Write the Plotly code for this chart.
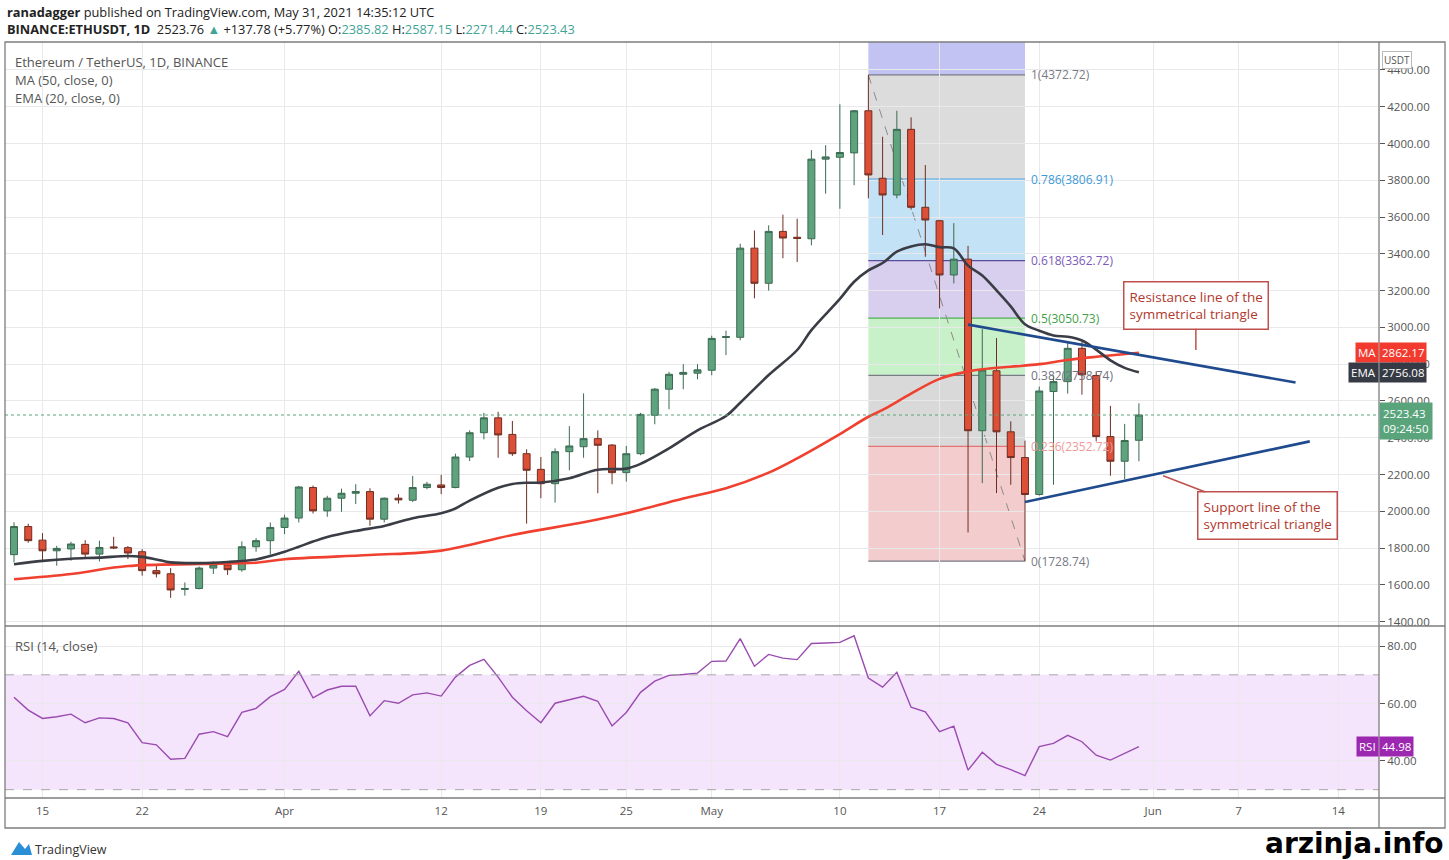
import pandas as pd
import plotly.graph_objects as go
from plotly.subplots import make_subplots

# ETHUSDT daily candles, 13 Mar - 31 May 2021
start_day = "2021-03-13"
opens = [1764, 1917, 1843, 1785, 1795, 1820, 1767, 1806, 1802, 1780,
         1677, 1660, 1575, 1580, 1691, 1708, 1682, 1807, 1840, 1912,
         1963, 2129, 2002, 2071, 2098, 2107, 1957, 2071, 2060, 2129,
         2143, 2129, 2295, 2427, 2508, 2418, 2313, 2228, 2150, 2324,
         2351, 2395, 2360, 2210, 2313, 2522, 2664, 2745, 2751, 2767,
         2945, 2946, 3431, 3240, 3522, 3490, 3482, 3915, 3925, 3949,
         4178, 3811, 3720, 4077, 3653, 3580, 3285, 3371, 2438, 2764,
         2432, 2292, 2091, 2651, 2705, 2886, 2738, 2406, 2272, 2385.82]
highs = [1940, 1932, 1881, 1812, 1834, 1843, 1840, 1861, 1811, 1794,
         1713, 1691, 1613, 1700, 1727, 1716, 1836, 1854, 1939, 1981,
         2138, 2140, 2084, 2123, 2147, 2125, 2075, 2093, 2192, 2160,
         2198, 2313, 2440, 2535, 2541, 2491, 2337, 2295, 2342, 2463,
         2641, 2440, 2365, 2355, 2535, 2670, 2758, 2800, 2800, 2955,
         2982, 3455, 3527, 3555, 3613, 3591, 3964, 3991, 4213, 4182,
         4372.72, 4037, 4178, 4142, 3883, 3585, 3567, 3443, 2991, 2942,
         2489, 2384, 2678, 2739, 2922, 2922, 2760, 2573, 2475, 2587.15]
lows = [1722, 1829, 1731, 1704, 1731, 1749, 1727, 1794, 1740, 1650,
        1640, 1529, 1541, 1575, 1659, 1653, 1671, 1780, 1764, 1876,
        1939, 1988, 1970, 1997, 2039, 1921, 1939, 2042, 2051, 2120,
        2093, 2125, 2273, 2391, 2291, 2301, 1933, 2071, 2047, 2223,
        2291, 2098, 2147, 2161, 2305, 2473, 2555, 2664, 2718, 2740,
        2849, 2930, 3158, 3200, 3376, 3355, 3446, 3727, 3645, 3773,
        3702, 3502, 3702, 3640, 3384, 3103, 3239, 1885, 2153, 2099,
        2144, 1728.74, 2085, 2144, 2640, 2634, 2380, 2193, 2175, 2271.44]
closes = [1917, 1840, 1785, 1798, 1822, 1767, 1803, 1801, 1773, 1677,
          1660, 1572, 1580, 1691, 1708, 1682, 1807, 1840, 1912, 1963,
          2132, 2002, 2071, 2098, 2107, 1957, 2071, 2062, 2129, 2147,
          2129, 2295, 2427, 2508, 2415, 2313, 2223, 2150, 2324, 2355,
          2395, 2359, 2210, 2313, 2527, 2664, 2745, 2755, 2769, 2940,
          2950, 3431, 3240, 3522, 3486, 3484, 3915, 3927, 3951, 4178,
          3829, 3720, 4077, 3653, 3584, 3285, 3371, 2438, 2768, 2432,
          2292, 2091, 2654, 2705, 2886, 2742, 2406, 2272, 2385, 2523.43]

# EMA(20) and MA(50) read at sampled days (day number from 13 Mar)
ema_days = [0, 2, 4, 6, 8, 9, 10, 11, 13, 15, 17, 18, 19, 20, 21, 22, 24, 26,
            28, 30, 31, 32, 34, 35, 36, 37, 39, 41, 43, 44, 46, 48, 50, 51, 53,
            55, 56, 58, 59, 60, 61, 62, 63, 64, 65, 66, 67, 68, 69, 70, 71, 72,
            73, 74, 75, 76, 77, 78, 79]
ema_vals = [1712, 1730, 1742, 1748, 1757, 1752, 1738, 1722, 1718, 1724, 1738,
            1757, 1780, 1807, 1835, 1860, 1893, 1920, 1962, 1989, 2015, 2058,
            2128, 2148, 2155, 2156, 2180, 2226, 2232, 2258, 2342, 2440, 2518,
            2590, 2741, 2877, 2985, 3155, 3248, 3310, 3350, 3412, 3440, 3452,
            3436, 3430, 3336, 3282, 3201, 3114, 3017, 2982, 2956, 2949, 2929,
            2879, 2821, 2780, 2756.08]
ma_days = [0, 4, 8, 13, 17, 19, 25, 30, 35, 40, 43, 47, 50, 53, 55, 58, 60, 61,
           63, 65, 67, 68, 70, 72, 74, 76, 79]
ma_vals = [1630, 1659, 1702, 1713, 1720, 1739, 1762, 1786, 1871, 1940, 1989,
           2070, 2125, 2210, 2288, 2420, 2514, 2551, 2640, 2720, 2760, 2772,
           2786, 2800, 2823, 2840, 2862.17]

rsi_vals = [62.2, 57.7, 54.8, 55.4, 56.3, 53.3, 55.0, 54.8, 53.3, 46.4,
            45.6, 40.6, 40.9, 49.3, 50.2, 48.5, 56.9, 58.3, 62.4, 64.9,
            71.2, 62.0, 64.7, 66.0, 66.0, 55.7, 61.0, 60.1, 63.0, 63.7,
            62.6, 69.2, 73.3, 75.4, 69.2, 62.2, 57.5, 53.3, 60.1, 61.2,
            62.5, 60.8, 52.2, 56.9, 63.9, 67.8, 69.8, 70.1, 70.6, 74.7,
            74.8, 82.6, 73.0, 77.1, 75.8, 75.3, 80.9, 81.1, 81.3, 83.6,
            68.9, 65.7, 70.9, 58.7, 57.1, 50.2, 52.1, 36.8, 43.0, 38.8,
            37.0, 34.9, 45.0, 46.1, 48.9, 46.7, 42.0, 40.3, 42.5, 44.98]

fib_ratios = ["1", "0.786", "0.618", "0.5", "0.382", "0.236", "0"]
fib_prices = [4372.72, 3806.91, 3362.72, 3050.73, 2738.74, 2352.72, 1728.74]
fib_start, fib_end = "2021-05-12", "2021-05-23"

resist_dates = ["2021-05-19", "2021-06-11"]
resist_prices = [3015, 2700]
support_dates = ["2021-05-23", "2021-06-12"]
support_prices = [2050, 2380]

tick_dates = ["2021-03-15", "2021-03-22", "2021-04-01", "2021-04-12", "2021-04-19",
              "2021-04-25", "2021-05-01", "2021-05-10", "2021-05-17", "2021-05-24",
              "2021-06-01", "2021-06-07", "2021-06-14"]
tick_text = ["15", "22", "Apr", "12", "19", "25", "May", "10", "17", "24", "Jun", "7", "14"]

last_price = 2523.43

dates = pd.date_range(start_day, periods=len(closes), freq="D")
day0 = pd.Timestamp(start_day)
ema_x = [day0 + pd.Timedelta(days=d) for d in ema_days]
ma_x = [day0 + pd.Timedelta(days=d) for d in ma_days]

W, H = 1449, 860
ML, MR, MT, MB = 5, 70, 42, 62
PW, PH = W - ML - MR, H - MT - MB
split = 172 / PH


def px(x):
    return (x - ML) / PW


def py(y):
    return (H - MB - y) / PH


FONT = "Open Sans"
GREY = "#555555"
UP, DOWN = "#5fa27e", "#dd4f37"

fig = make_subplots(rows=2, cols=1, shared_xaxes=True, vertical_spacing=0,
                    row_heights=[0.77, 0.23])

# fibonacci zones
fib_fills = ["#dcdcdc", "#c4e2f6", "#d8cfee", "#c9f1c9", "#d9d9d9", "#f3cdcd"]
fig.add_shape(type="rect", xref="x", yref="y", x0=fib_start, x1=fib_end,
              y0=fib_prices[0], y1=4700, fillcolor="#c3c3f3", line_width=0, layer="below")
for i in range(len(fib_fills)):
    fig.add_shape(type="rect", xref="x", yref="y", x0=fib_start, x1=fib_end,
                  y0=fib_prices[i + 1], y1=fib_prices[i], fillcolor=fib_fills[i],
                  line_width=0, layer="below")
fib_lines = ["#787b86", "#4aa3df", "#5b4a9a", "#4caf50", "#787b86", "#e57373", "#787b86"]
fib_text = ["#787b86", "#3d9ad6", "#7a5ab8", "#3f9f48", "#6f7280", "#ef9a9a", "#787b86"]
for r, p, lc, tc in zip(fib_ratios, fib_prices, fib_lines, fib_text):
    fig.add_shape(type="line", xref="x", yref="y", x0=fib_start, x1=fib_end,
                  y0=p, y1=p, line=dict(color=lc, width=1.2), layer="below")
    fig.add_annotation(x=fib_end, y=p, xref="x", yref="y", text=f"{r}({p:.2f})",
                       showarrow=False, xanchor="left", xshift=4,
                       font=dict(family=FONT, size=12, color=tc))
fig.add_shape(type="line", xref="x", yref="y", x0=fib_start, x1=fib_end,
              y0=fib_prices[0], y1=fib_prices[-1],
              line=dict(color="#8a8a8a", width=1, dash="dash"), layer="below")

# last price dotted line
fig.add_shape(type="line", xref="paper", yref="y", x0=0, x1=1, y0=last_price,
              y1=last_price, line=dict(color="#5aa47c", width=1, dash="dot"))

fig.add_trace(go.Candlestick(
    x=dates, open=opens, high=highs, low=lows, close=closes,
    increasing=dict(line=dict(color="#3b6a52", width=1), fillcolor=UP),
    decreasing=dict(line=dict(color="#6e2e22", width=1), fillcolor=DOWN),
    whiskerwidth=0, showlegend=False, hoverinfo="skip"), row=1, col=1)

fig.add_trace(go.Scatter(x=ma_x, y=ma_vals, mode="lines", line_shape="spline",
                         line=dict(color="#f0402f", width=2.6), showlegend=False),
              row=1, col=1)
fig.add_trace(go.Scatter(x=ema_x, y=ema_vals, mode="lines", line_shape="spline",
                         line=dict(color="#3a3d45", width=2.6), showlegend=False),
              row=1, col=1)

fig.add_trace(go.Scatter(x=resist_dates, y=resist_prices, mode="lines",
                         line=dict(color="#1f4b8e", width=2.6), showlegend=False),
              row=1, col=1)
fig.add_trace(go.Scatter(x=support_dates, y=support_prices, mode="lines",
                         line=dict(color="#1f4b8e", width=2.6), showlegend=False),
              row=1, col=1)

# RSI pane
fig.add_shape(type="rect", xref="x2 domain", yref="y2", x0=0, x1=1, y0=30, y1=70,
              fillcolor="#f4e4fc", line_width=0, layer="below")
for lvl in [70, 30]:
    fig.add_shape(type="line", xref="x2 domain", yref="y2", x0=0, x1=1, y0=lvl, y1=lvl,
                  line=dict(color="#a8a8a8", width=1, dash="dash"))
fig.add_trace(go.Scatter(x=dates, y=rsi_vals, mode="lines",
                         line=dict(color="#9a4bb0", width=1.4), showlegend=False),
              row=2, col=1)

x_range = ["2021-03-12 08:50", "2021-06-16 20:40"]
fig.update_xaxes(range=x_range, tickvals=tick_dates, ticktext=tick_text,
                 showgrid=True, gridcolor="#e9e9ec", zeroline=False,
                 rangeslider_visible=False, ticklabelstandoff=4,
                 tickfont=dict(family=FONT, size=11.5, color=GREY))
fig.update_xaxes(showticklabels=False, row=1, col=1)

price_ticks = list(range(1400, 4401, 200))
fig.update_yaxes(row=1, col=1, side="right", range=[1376, 4552], tickvals=price_ticks,
                 ticktext=[f"{v:.2f}" for v in price_ticks], domain=[split, 1],
                 showgrid=True, gridcolor="#e9e9ec", zeroline=False,
                 ticks="outside", ticklen=5, tickcolor=GREY,
                 tickfont=dict(family=FONT, size=11.5, color=GREY))
fig.update_yaxes(row=2, col=1, side="right", range=[27.1, 87], tickvals=[40, 60, 80],
                 ticktext=["40.00", "60.00", "80.00"], domain=[0, split],
                 showgrid=True, gridcolor="#e9e9ec", zeroline=False,
                 ticks="outside", ticklen=5, tickcolor=GREY,
                 tickfont=dict(family=FONT, size=11.5, color=GREY))

# frame and separators
frame = dict(color="#7d7d7d", width=1.3)
fig.add_shape(type="rect", xref="paper", yref="paper", x0=0, x1=px(1445),
              y0=py(828), y1=1, line=frame)
fig.add_shape(type="line", xref="paper", yref="paper", x0=1, x1=1, y0=py(828), y1=1, line=frame)
fig.add_shape(type="line", xref="paper", yref="paper", x0=0, x1=px(1445), y0=split, y1=split, line=frame)
fig.add_shape(type="line", xref="paper", yref="paper", x0=0, x1=px(1445), y0=0, y1=0, line=frame)

# header and legend texts
fig.add_annotation(xref="paper", yref="paper", x=0, y=py(12), xanchor="left", yanchor="middle",
                   text="<b>ranadagger</b> published on TradingView.com, May 31, 2021 14:35:12 UTC",
                   showarrow=False, font=dict(family=FONT, size=12.8, color="#222"))
teal = "#3fa597"
hdr = (f"<b>BINANCE:ETHUSDT, 1D</b>  2523.76 <span style='color:{teal}'>▲</span> +137.78 (+5.77%) "
       f"O:<span style='color:{teal}'>2385.82</span> H:<span style='color:{teal}'>2587.15</span> "
       f"L:<span style='color:{teal}'>2271.44</span> C:<span style='color:{teal}'>2523.43</span>")
fig.add_annotation(xref="paper", yref="paper", x=0, y=py(29), xanchor="left", yanchor="middle",
                   text=hdr, showarrow=False, font=dict(family=FONT, size=12.8, color="#222"))
for txt, yy in [("Ethereum / TetherUS, 1D, BINANCE", 62), ("MA (50, close, 0)", 80),
                ("EMA (20, close, 0)", 98), ("RSI (14, close)", 646)]:
    fig.add_annotation(xref="paper", yref="paper", x=px(13), y=py(yy), xanchor="left",
                       yanchor="middle", text=txt, showarrow=False,
                       font=dict(family=FONT, size=13, color=GREY))

# callouts
callout = dict(showarrow=True, arrowhead=0, arrowwidth=1.5, arrowcolor="#c0504d",
               bordercolor="#c0504d", borderwidth=1.5, borderpad=5, bgcolor="white",
               align="left", font=dict(family=FONT, size=13.5, color="#b0392c"))
fig.add_annotation(x="2021-06-04", y=2877, xref="x", yref="y", ax=0, ay=-45,
                   text="Resistance line of the<br>symmetrical triangle", **callout)
fig.add_annotation(x="2021-06-01 16:48", y=2193, xref="x", yref="y", ax=104, ay=40,
                   text="Support line of the<br>symmetrical triangle", **callout)

# axis badges
badge_font = dict(family=FONT, size=11.5, color="white")
for name, val, col, yref in [("MA", 2862.17, "#f23a2f", "y"), ("EMA", 2756.08, "#363a45", "y"),
                             ("RSI", 44.98, "#9c27b0", "y2")]:
    fig.add_annotation(xref="paper", yref=yref, x=1, y=val, xanchor="right", text=name,
                       showarrow=False, bgcolor=col, borderpad=2, font=badge_font)
    fig.add_annotation(xref="paper", yref=yref, x=1, y=val, xanchor="left",
                       text=f"{val:.2f}", showarrow=False, bgcolor=col, borderpad=2,
                       font=badge_font)
fig.add_annotation(xref="paper", yref="y", x=1, y=last_price, xanchor="left", yshift=-6,
                   text="2523.43<br>09:24:50", showarrow=False, bgcolor="#5aa47c",
                   borderpad=3, align="left", font=badge_font)
fig.add_annotation(xref="paper", yref="paper", x=px(1412), y=py(60), yanchor="middle",
                   text="USDT", showarrow=False, bgcolor="white", bordercolor="#bbbbbb",
                   borderwidth=1, borderpad=1, font=dict(family=FONT, size=10, color=GREY))

# footer
fig.add_shape(type="path", xref="paper", yref="paper",
              path=(f"M {px(11)},{py(855)} L {px(19)},{py(842)} L {px(25)},{py(849)} "
                    f"L {px(29)},{py(844)} L {px(32)},{py(855)} Z"),
              fillcolor="#2b8fd6", line_width=0)
fig.add_annotation(xref="paper", yref="paper", x=px(33), y=py(849), xanchor="left",
                   yanchor="middle", text="TradingView", showarrow=False,
                   font=dict(family=FONT, size=12.5, color="#333"))
fig.add_annotation(xref="paper", yref="paper", x=px(1446), y=py(843), xanchor="right",
                   yanchor="middle", text="<b>arzinja.info</b>", showarrow=False,
                   font=dict(family="DejaVu Sans", size=28, color="black"))

fig.update_layout(width=W, height=H, margin=dict(l=ML, r=MR, t=MT, b=MB),
                  paper_bgcolor="white", plot_bgcolor="white", showlegend=False,
                  hovermode=False)

# page has a default body margin; drop it so the figure sits at the window corner
fig.write_html("out.html", config={"displayModeBar": False},
               post_script="document.body.style.margin='0px';")
